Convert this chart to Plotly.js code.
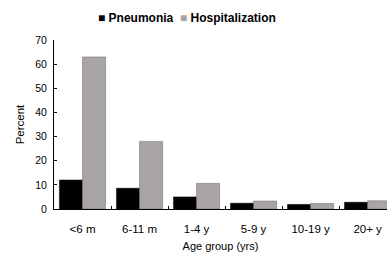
<!DOCTYPE html>
<html><head><meta charset="utf-8">
<script src="https://cdn.plot.ly/plotly-3.0.1.min.js"></script>
<style>html,body{margin:0;padding:0;background:#fff}#c{width:387px;height:256px}</style>
</head><body><div id="c"></div>
<script>
const categories = ["<6 m","6-11 m","1-4 y","5-9 y","10-19 y","20+ y"];
const seriesNames = ["Pneumonia","Hospitalization"];
const pneumonia = [12, 8.6, 5, 2.4, 1.9, 2.8];
const hospitalization = [63, 28, 10.6, 3.3, 2.3, 3.4];
const yTicks = [0,10,20,30,40,50,60,70];
const colors = ["#000000","#a9a5a5"];

const fam = "Liberation Sans, Arial, sans-serif";
const data = [
  {type:"bar", name:seriesNames[0], x:categories, y:pneumonia,
   marker:{color:colors[0], line:{color:"#000", width:0.5}}},
  {type:"bar", name:seriesNames[1], x:categories, y:hospitalization,
   marker:{color:colors[1], line:{color:"#666", width:0.5}}}
];
const legendText = seriesNames.map((n,i)=>"<span style='color:"+colors[i]+"'>■</span> "+n).join("  ");
const layout = {
  width:387, height:256,
  margin:{l:54, r:0, t:40, b:47},
  paper_bgcolor:"#fff", plot_bgcolor:"#fff",
  barmode:"group", bargap:0.19, bargroupgap:0,
  showlegend:false,
  annotations:[{text:legendText, xref:"paper", yref:"paper", x:0.40, y:1.13, xanchor:"center", yanchor:"middle",
    showarrow:false, font:{family:fam, size:12, color:"#000", weight:"bold"}}],
  xaxis:{type:"category", range:[-0.5, 5.34], showline:true, linecolor:"#000", linewidth:1,
    ticks:"inside", tickson:"boundaries", ticklen:3, tickcolor:"#000",
    tickfont:{family:fam, size:11.5, color:"#000"}, ticklabelstandoff:9,
    showgrid:false, zeroline:false, fixedrange:true,
    title:{text:"Age group (yrs)", font:{family:fam, size:11, color:"#000"}, standoff:8}},
  yaxis:{range:[0,70], tickvals:yTicks, showline:true, linecolor:"#000", linewidth:1,
    ticks:"inside", ticklen:3, tickcolor:"#000", tickfont:{family:fam, size:10.5, color:"#000"},
    ticklabelstandoff:4, showgrid:false, zeroline:false,
    title:{text:"Percent", font:{family:fam, size:11.5, color:"#000"}, standoff:8}}
};
Plotly.newPlot("c", data, layout, {displayModeBar:false, staticPlot:true});
</script></body></html>
